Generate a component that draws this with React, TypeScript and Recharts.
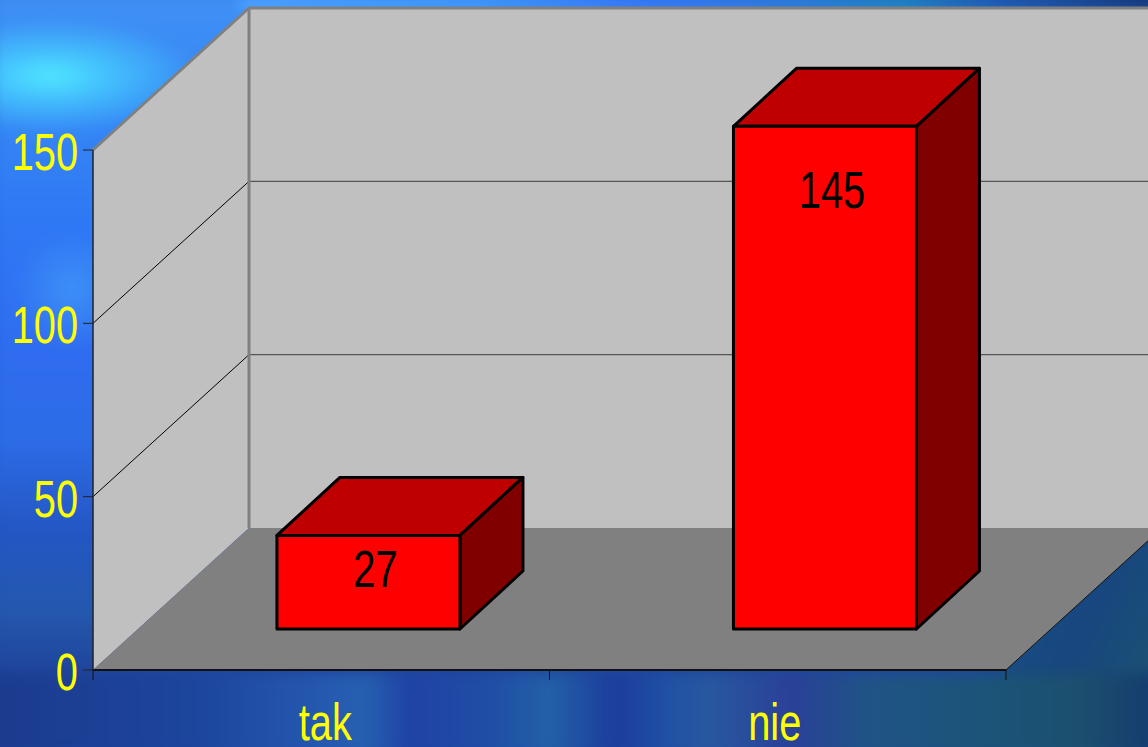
import { BarChart, Bar, XAxis, YAxis, ReferenceArea, LabelList } from "recharts";

const categories = ["tak", "nie"];
const answers = [27, 145];
const yTicks = [0, 50, 100, 150];

const chartData = categories.map((name, i) => ({ name, value: answers[i] }));

// fake 3D: offsets of the back wall and of the bars' position on the floor
const WALL_DX = 156;
const WALL_DY = -142;
const BAR_DX = 47;
const BAR_DY = -41;
const BAR_DEPTH_DX = 63;
const BAR_DEPTH_DY = -58;
const TEXT_SQUEEZE = 0.78;
const FONT = "'Liberation Sans', Arial, sans-serif";

// coordinates here are relative to the backdrop div, which sits 10px up and left of the page
const background = [
  "radial-gradient(ellipse 150px 58px at 60px 86px, #50e8ff 0%, rgba(70,205,255,0.8) 40%, rgba(60,150,255,0) 100%)",
  "radial-gradient(ellipse 60px 60px at 82px 300px, rgba(70,165,250,0.6) 0%, rgba(70,165,250,0) 100%)",
  "linear-gradient(90deg, #4aa0ff 0px, #3f96fa 240px, #3578f5 400px, #2f78e0 520px, #1f80c0 660px, #1e58b0 760px, #16387a 908px) 250px 0px / 918px 24px no-repeat",
  "linear-gradient(90deg, #1b3a8e 0px, #1c459c 200px, #2558b0 330px, #2660b0 375px, #1f42a6 420px, #1f4ea5 500px, #2360a8 560px, #1c3c9c 625px, #1f52a5 680px, #28589f 720px, #2a4098 800px, #1f5485 880px, #1a5478 1000px, #1c4f6e 1090px, #143a6e 1168px) 0px 684px / 1178px 95px no-repeat",
  "linear-gradient(115deg, #1b4f85 0%, #17467e 55%, #1c5470 100%) 1010px 540px / 168px 160px no-repeat",
  "linear-gradient(180deg, #3f90f5 0px, #3484f5 140px, #2f78f5 230px, #2f6cf0 360px, #2c6ce6 450px, #2456c4 540px, #2458ae 620px, #1c3f95 700px, #1a2f80 767px)",
].join(", ");

function Walls({ x, y, width, height }: any) {
  const bottom = y + height;
  const right = x + width;
  const yOf = (t: number) => bottom - (t / yTicks[yTicks.length - 1]) * height;
  const bx = x + WALL_DX;
  const by = y + WALL_DY;
  const fx = bottom + WALL_DY;
  return (
    <g>
      <polygon points={`${bx},${by} ${right + WALL_DX},${by} ${right + WALL_DX},${fx} ${bx},${fx}`} fill="#c0c0c0" />
      <polygon points={`${x},${y} ${bx},${by} ${bx},${fx} ${x},${bottom}`} fill="#c0c0c0" />
      <polygon points={`${x},${bottom} ${right},${bottom} ${right + WALL_DX},${fx} ${bx},${fx}`} fill="#808080" />
      {yTicks.slice(1, -1).map((t) => (
        <g key={t}>
          <line x1={x} y1={yOf(t)} x2={bx} y2={yOf(t) + WALL_DY} stroke="#000" strokeWidth={1} />
          <line x1={bx} y1={yOf(t) + WALL_DY} x2={right + WALL_DX} y2={yOf(t) + WALL_DY} stroke="#555" strokeWidth={1.3} />
        </g>
      ))}
      <polyline
        points={`${x},${y} ${bx},${by} ${right + WALL_DX},${by}`}
        fill="none"
        stroke="#808080"
        strokeWidth={3}
      />
      <line x1={bx} y1={by} x2={bx} y2={fx} stroke="#808080" strokeWidth={3} />
      <line x1={right} y1={bottom} x2={right + WALL_DX} y2={fx} stroke="#111" strokeWidth={1} />
      {categories.concat("").map((_, i) => {
        const tx = x + (width * i) / categories.length;
        return <line key={i} x1={tx} y1={bottom} x2={tx} y2={bottom + 10} stroke="#111" strokeWidth={1} />;
      })}
    </g>
  );
}

function Box3D({ x, y, width, height }: any) {
  const fx = x + BAR_DX;
  const fy = y + BAR_DY;
  const rx = fx + width;
  const by = fy + height;
  const dx = BAR_DEPTH_DX;
  const dy = BAR_DEPTH_DY;
  return (
    <g stroke="#000" strokeWidth={3} strokeLinejoin="round">
      <polygon points={`${fx},${fy} ${fx + dx},${fy + dy} ${rx + dx},${fy + dy} ${rx},${fy}`} fill="#bf0000" />
      <polygon points={`${rx},${fy} ${rx + dx},${fy + dy} ${rx + dx},${by + dy} ${rx},${by}`} fill="#800000" />
      <rect x={fx} y={fy} width={width} height={height} fill="#ff0000" />
    </g>
  );
}

function YTick({ x, y, payload }: any) {
  return (
    <text
      transform={`translate(${x},${y + 20}) scale(${TEXT_SQUEEZE},1)`}
      textAnchor="end"
      fontFamily={FONT}
      fontSize={51}
      fill="#ffff00"
    >
      {payload.value}
    </text>
  );
}

const xLabelShift = [4, -3];

function XTick({ x, y, payload, index }: any) {
  return (
    <text
      transform={`translate(${x + xLabelShift[index]},${y + 62}) scale(${TEXT_SQUEEZE},1)`}
      textAnchor="middle"
      fontFamily={FONT}
      fontSize={51}
      fill="#ffff00"
    >
      {payload.value}
    </text>
  );
}

const labelDrop = [52, 82];

function ValueLabel({ x, y, width, value, index }: any) {
  return (
    <text
      transform={`translate(${x + width / 2 + BAR_DX + 7},${y + BAR_DY + labelDrop[index]}) scale(${TEXT_SQUEEZE},1)`}
      textAnchor="middle"
      fontFamily={FONT}
      fontSize={51}
      fill="#000"
    >
      {value}
    </text>
  );
}

export default function App() {
  return (
    <div style={{ position: "fixed", left: 0, top: 0, width: 1148, height: 747, overflow: "hidden", background: "#1f4ea5" }}>
      {/* backdrop is blurred so the painted patches run into each other */}
      <div style={{ position: "absolute", left: -10, top: -10, width: 1168, height: 767, background, filter: "blur(7px)" }} />
      <div style={{ position: "absolute", left: 0, top: 0 }}>
        <BarChart
          width={1148}
          height={747}
          data={chartData}
          barCategoryGap="30%"
          margin={{ top: 150, right: 142, bottom: 27, left: 33 }}
        >
          <ReferenceArea y1={0} y2={150} ifOverflow="visible" shape={<Walls />} />
          <XAxis dataKey="name" height={50} tickLine={false} axisLine={{ stroke: "#111", strokeWidth: 2 }} tick={<XTick />} />
          <YAxis
            width={60}
            domain={[0, 150]}
            ticks={yTicks}
            tickSize={10}
            tickMargin={5}
            axisLine={{ stroke: "#222", strokeWidth: 1.5 }}
            tickLine={{ stroke: "#222", strokeWidth: 1 }}
            tick={<YTick />}
          />
          <Bar dataKey="value" isAnimationActive={false} shape={<Box3D />}>
            <LabelList dataKey="value" content={<ValueLabel />} />
          </Bar>
        </BarChart>
      </div>
    </div>
  );
}
